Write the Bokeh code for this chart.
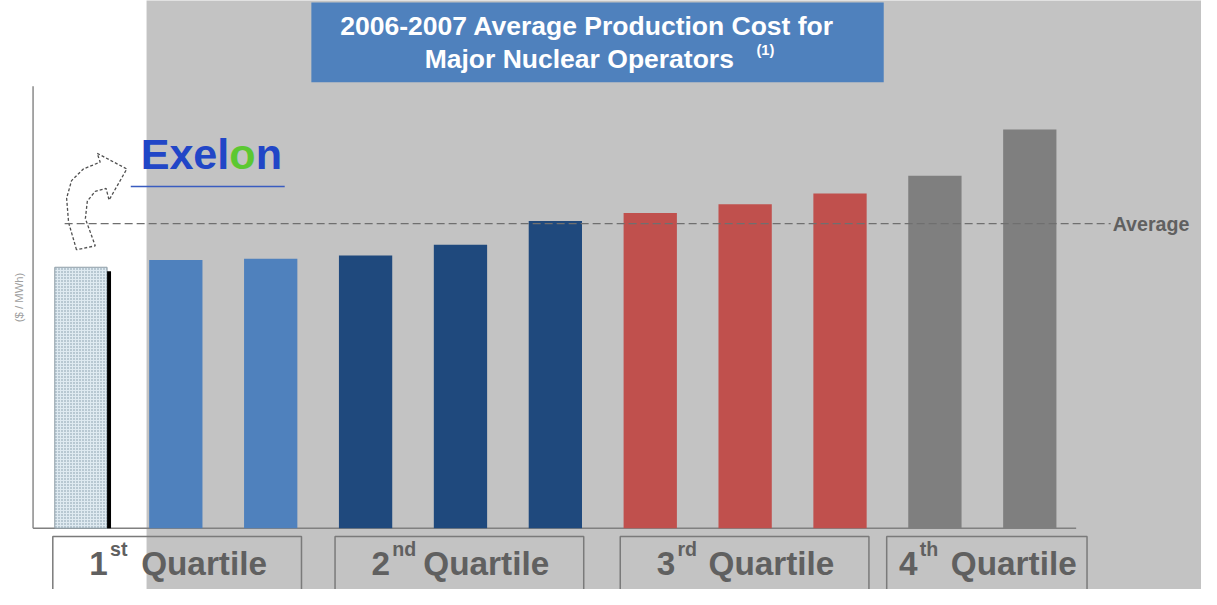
import math
from bokeh.plotting import figure
from bokeh.models import Range1d
from bokeh.core.properties import value
from bokeh.embed import file_html
from bokeh.resources import INLINE

# ---------------- data ----------------
operators = ["Exelon", "Operator 2", "Operator 3", "Operator 4", "Operator 5", "Operator 6",
             "Operator 7", "Operator 8", "Operator 9", "Operator 10", "Operator 11"]
costs = [13.40, 13.77, 13.84, 14.00, 14.55, 15.77, 16.19, 16.64, 17.19, 18.10, 20.47]  # $/MWh (estimated)
quartile_of = [1, 1, 1, 2, 2, 2, 3, 3, 3, 4, 4]
average_cost = 15.64
quartile_numbers = ["1", "2", "3", "4"]
quartile_suffixes = ["st", "nd", "rd", "th"]
quartile_word = "Quartile"
title_line1 = "2006-2007 Average Production Cost for"
title_line2 = "Major Nuclear Operators"
title_note = "(1)"
y_label = "($ / MWh)"
average_label = "Average"
logo_parts = ["Exel", "o", "n"]

# ---------------- layout helpers (reference px -> data) ----------------
W, H = 1201, 589
REF_W, REF_H = 1217, 605
KX, KY = W / REF_W, H / REF_H
K = (KX + KY) / 2
X0_PX, DX_PX, Y0_PX, DY_PX = 81.5, 96.15, 542.0, 20.0
BASE_SHIFT = 0.4  # em correction for where the text baseline lands


def sx(px):
    return (px - X0_PX) / DX_PX


def sy(py):
    return (Y0_PX - py) / DY_PX


def ty(py, font_px):
    return sy(py - BASE_SHIFT * font_px)


def wx(px):
    return px / DX_PX


def hy(py):
    return py / DY_PX


def fs(px):
    return f"{px * K:.1f}px"


quartile_colors = {1: "#4f81bd", 2: "#1f497d", 3: "#c0504d", 4: "#7f7f7f"}
FONT = value("Liberation Sans")

p = figure(width=W, height=H, x_range=Range1d(sx(0), sx(REF_W)),
           y_range=Range1d(sy(REF_H), sy(0)), output_backend="svg",
           toolbar_location=None, min_border=0, x_axis_location=None, y_axis_location=None)
p.grid.visible = False
p.outline_line_color = None
p.background_fill_color = "white"
p.border_fill_color = "white"

# grey slide background
p.quad(left=sx(148), right=sx(1240), bottom=sy(640), top=sy(-20),
       fill_color="#c3c3c3", line_color=None)

# title box
p.quad(left=sx(315), right=sx(895), top=sy(2), bottom=sy(84),
       fill_color="#4f81bd", line_color=None)
p.text(x=[sx(594.5)], y=[ty(37, 27)], text=[title_line1], text_font=FONT, text_font_style="bold",
       text_font_size=fs(27), text_color="white", text_align="center", text_baseline="alphabetic")
p.text(x=[sx(586.5)], y=[ty(71, 27)], text=[title_line2], text_font=FONT, text_font_style="bold",
       text_font_size=fs(27), text_color="white", text_align="center", text_baseline="alphabetic")
p.text(x=[sx(766)], y=[ty(57, 15)], text=[title_note], text_font=FONT, text_font_style="bold",
       text_font_size=fs(15), text_color="white", text_align="left", text_baseline="alphabetic")

# axis lines
p.segment(x0=[sx(33)], y0=[sy(88)], x1=[sx(33)], y1=[0], line_color="#8a8a8a", line_width=1.5)
p.segment(x0=[sx(33)], y0=[0], x1=[sx(1090)], y1=[0], line_color="#808080", line_width=1.5)
p.text(x=[sx(19)], y=[sy(305)], text=[y_label], angle=math.pi / 2, text_font=FONT,
       text_font_size=fs(11.5), text_color="#a0a0a0", text_align="center", text_baseline="middle")

# curved arrow pointing to the Exelon logo
arrow_px = [(77, 256), (69, 228), (67, 203), (72, 185), (84, 173), (101, 166), (98, 157),
            (128, 173), (110, 205), (107, 193), (96, 196), (88, 206), (86, 224), (96, 252)]
p.patch(x=[sx(a) for a, b in arrow_px], y=[sy(b) for a, b in arrow_px], fill_color="white",
        line_color="#505050", line_width=1.3, line_dash="3 2")

# bars
positions = list(range(len(costs)))
p.vbar(x=positions[:1], top=costs[:1], width=wx(53), bottom=0, fill_color="#dfeaf1",
       hatch_pattern="dot", hatch_color="#7d95a2", hatch_scale=3, hatch_weight=1,
       line_color="#8d9ca5", line_width=1)
p.quad(left=[positions[0] + wx(26.5)], right=[positions[0] + wx(30.5)],
       top=[costs[0] - hy(4)], bottom=[0], fill_color="black", line_color=None)
p.vbar(x=positions[1:], top=costs[1:], width=wx(54), bottom=0,
       fill_color=[quartile_colors[q] for q in quartile_of[1:]], line_color=None)

# average line
p.segment(x0=[sx(65)], x1=[sx(1125)], y0=[average_cost], y1=[average_cost],
          line_color="#6f6f6f", line_width=1.3, line_dash="8 4")
p.text(x=[sx(1127)], y=[average_cost - hy(8.7 - BASE_SHIFT * 20)], text=[average_label], text_font=FONT,
       text_font_style="bold", text_font_size=fs(20), text_color="#606060",
       text_align="left", text_baseline="alphabetic")

# quartile boxes and labels
box_l = [53, 339, 628, 898]
box_r = [305, 591, 880, 1101]
p.quad(left=[sx(v) for v in box_l], right=[sx(v) for v in box_r],
       top=[sy(550.5)] * 4, bottom=[sy(640)] * 4, fill_color=None,
       line_color="#7a7a7a", line_width=1.5)
centers = [(l + r) / 2 + 2 for l, r in zip(box_l, box_r)]
p.text(x=[sx(c - 91) for c in centers], y=[ty(592, 34)] * 4, text=quartile_numbers, text_font=FONT,
       text_font_style="bold", text_font_size=fs(34), text_color="#606060",
       text_align="left", text_baseline="alphabetic")
p.text(x=[sx(c - 70) for c in centers], y=[ty(571, 20)] * 4, text=quartile_suffixes, text_font=FONT,
       text_font_style="bold", text_font_size=fs(20), text_color="#606060",
       text_align="left", text_baseline="alphabetic")
p.text(x=[sx(c + 89) for c in centers], y=[ty(592, 34)] * 4, text=[quartile_word] * 4, text_font=FONT,
       text_font_style="bold", text_font_size=fs(34), text_color="#606060",
       text_align="right", text_baseline="alphabetic")

# Exelon logo
logo_font_px = 44
em_ref = logo_font_px * K / KX
adv = [0.667 + 0.556 + 0.556 + 0.278, 0.611]
lx = [142, 142 + adv[0] * em_ref, 142 + (adv[0] + adv[1]) * em_ref]
p.text(x=[sx(v) for v in lx], y=[ty(175, logo_font_px)] * 3, text=logo_parts, text_font=FONT,
       text_font_style="bold", text_font_size=fs(logo_font_px),
       text_color=["#2146c7", "#5cc832", "#2146c7"], text_align="left", text_baseline="alphabetic")
p.segment(x0=[sx(132)], x1=[sx(288)], y0=[sy(191)], y1=[sy(191)], line_color="#3a5cc0", line_width=1.5)

open("out.html", "w").write(file_html(p, INLINE))
